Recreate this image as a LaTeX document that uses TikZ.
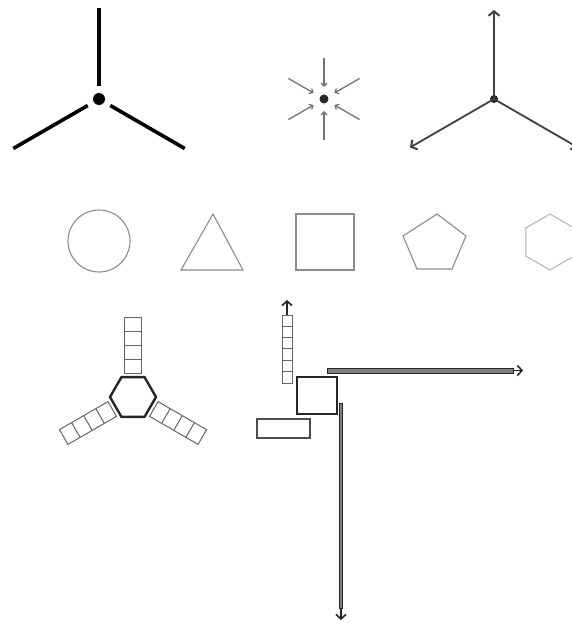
\documentclass[tikz,border=0pt]{standalone}
\usetikzlibrary{arrows.meta}
\begin{document}
\begin{tikzpicture}[x=1pt,y=-1pt,
  thickray/.style={line width=3.6pt,black},
  thinray/.style={line width=1.3pt,black!55,-{Straight Barb[length=3pt,width=6pt]}},
  axisray/.style={line width=1.8pt,black!75,-{Straight Barb[length=4.5pt,width=11pt,line width=2pt]}},
  outline/.style={line width=1.1pt,black!45},
  faint/.style={line width=1pt,black!30},
  ladder/.style={line width=1pt,black!60},
  heavy/.style={line width=2.4pt,black!85},
  barbox/.style={line width=1pt,black!85,fill=black!50},
  tip/.style={line width=1.4pt,black!85,-{Straight Barb[length=4.5pt,width=10pt,line width=1.6pt]}}]
\useasboundingbox (0,0) rectangle (571,623);
\fill[white] (0,0) rectangle (571,623);
% ---- figure 1
\coordinate (c1) at (99,99);
\fill (c1) circle[radius=6];
\draw[thickray] (c1) ++(270:13) -- ++(270:78);
\draw[thickray] (c1) ++(150:13) -- ++(150:86);
\draw[thickray] (c1) ++(30:13) -- ++(30:86);
% ---- figure 2
\coordinate (c2) at (324,99);
\fill[black!85] (c2) circle[radius=4.5];
\foreach \a in {30,90,150,210,270,330}
  \draw[thinray] (c2) ++(\a:41) -- ++(\a:-29);
% ---- figure 3
\coordinate (c3) at (494,99);
\fill[black!85] (c3) circle[radius=4];
\draw[axisray] (c3) -- ++(270:89);
\draw[axisray] (c3) -- ++(150:97);
\draw[axisray] (c3) -- ++(30:97);
% ---- row 2
\coordinate (c4) at (99,241);
\draw[outline] (c4) circle[radius=31];
\draw[outline] (213,214) -- (181,270) -- (243,270) -- cycle;
\draw[outline] (296,214) rectangle (354,270);
\draw[outline] (437,214) -- (466,236) -- (452,269) -- (417,269) -- (403,236) -- cycle;
\coordinate (c5) at (550,242);
\draw[faint] (c5) ++(30:28) -- ++(150:28) -- ++(210:28) -- ++(270:28) -- ++(330:28) -- ++(30:28) -- cycle;
% ---- row 3 left
\coordinate (c6) at (133,397);
\draw[heavy] (c6) ++(0:23) -- ++(120:23) -- ++(180:23) -- ++(240:23) -- ++(300:23) -- ++(0:23) -- cycle;
\foreach \r in {90,210,330}{
  \begin{scope}[shift={(c6)},rotate=\r,y=1pt]
    \draw[ladder] (24,-8.5) rectangle (80,8.5);
    \foreach \k in {38,52,66} \draw[ladder] (\k,-8.5) -- (\k,8.5);
  \end{scope}}
% ---- row 3 right
\draw[ladder] (282,315) rectangle (292,383);
\foreach \k in {1,...,5} \draw[ladder] (282,315+11.33*\k) -- (292,315+11.33*\k);
\coordinate (l1) at (287,315);
\coordinate (l2) at (287,300);
\draw[tip] (l1) -- (l2);
\draw[line width=2pt,black!85] (297,377) rectangle (337,414);
\draw[line width=1.2pt,black!70] (257,419) rectangle (310,438);
\draw[barbox] (327,368) rectangle (513,373);
\coordinate (h1) at (513,370.5);
\coordinate (h2) at (523,370.5);
\draw[tip] (h1) -- (h2);
\draw[barbox] (339.5,403) rectangle (342.5,608);
\coordinate (v1) at (341,608);
\coordinate (v2) at (341,620);
\draw[tip] (v1) -- (v2);
\end{tikzpicture}
\end{document}
